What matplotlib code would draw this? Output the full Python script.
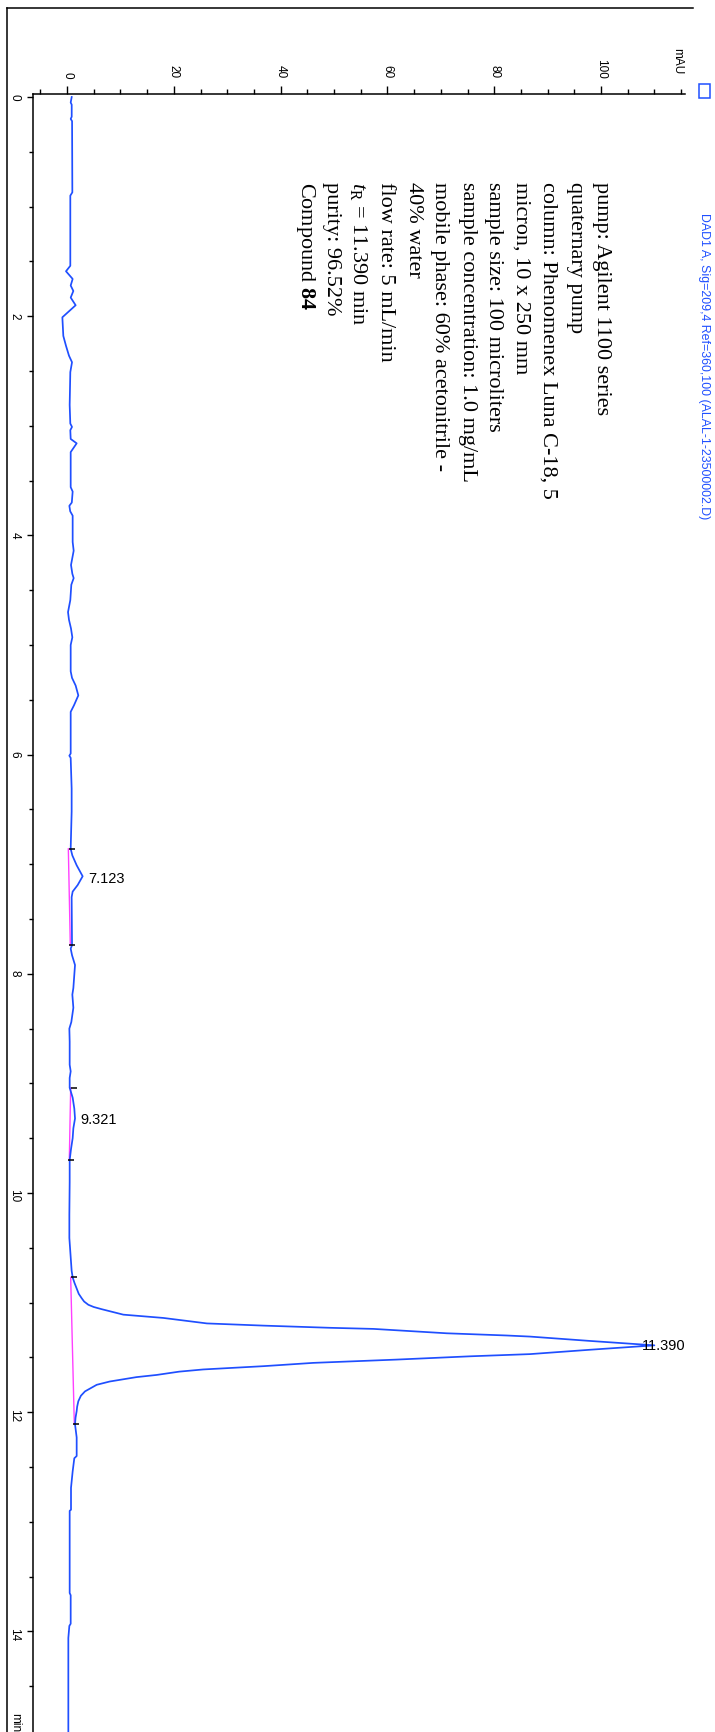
import matplotlib
matplotlib.use("Agg")
import matplotlib.pyplot as plt
from matplotlib.ticker import MultipleLocator, FixedLocator
from matplotlib.patches import Rectangle
from matplotlib.lines import Line2D

# DAD signal: retention time (min) and absorbance (mAU)
trace_time = [
    0.00, 0.05, 0.07, 0.18, 0.20, 0.22, 0.87, 0.90, 1.54, 1.59,
    1.66, 1.72, 1.77, 1.83, 1.90, 2.01, 2.18, 2.27, 2.36, 2.42,
    2.51, 2.81, 2.98, 3.01, 3.04, 3.12, 3.16, 3.24, 3.56, 3.60,
    3.70, 3.73, 3.78, 3.82, 4.06, 4.14, 4.27, 4.35, 4.39, 4.45,
    4.59, 4.70, 4.77, 4.85, 4.93, 5.00, 5.24, 5.30, 5.37, 5.46,
    5.55, 5.61, 5.99, 6.01, 6.03, 6.31, 6.52, 6.86, 6.92, 7.01,
    7.11, 7.19, 7.25, 7.30, 7.74, 7.77, 7.83, 7.92, 8.01, 8.13,
    8.19, 8.31, 8.44, 8.50, 8.62, 8.83, 8.89, 8.95, 9.04, 9.13,
    9.23, 9.32, 9.41, 9.50, 9.60, 9.70, 9.90, 10.20, 10.41, 10.59,
    10.71, 10.77, 10.82, 10.87, 10.92, 10.96, 10.99, 11.02, 11.04, 11.06,
    11.11, 11.14, 11.19, 11.21, 11.23, 11.24, 11.28, 11.30, 11.31, 11.35,
    11.39, 11.43, 11.47, 11.49, 11.52, 11.55, 11.58, 11.61, 11.63, 11.66,
    11.68, 11.70, 11.72, 11.75, 11.81, 11.85, 11.90, 11.95, 11.99, 12.05,
    12.11, 12.23, 12.40, 12.42, 12.54, 12.69, 12.89, 12.90, 13.65, 13.67,
    13.93, 13.95, 14.06, 14.95,
]
trace_mau = [
    0.88, 0.69, 0.88, 0.88, 0.69, 0.95, 1.00, 0.62, 0.62, -0.19,
    1.06, 0.69, 1.19, 0.69, 1.62, -0.87, -0.69, -0.19, 0.37, 0.94,
    0.62, 0.50, 0.62, 0.94, 0.62, 0.69, 1.81, 0.69, 0.69, 1.06,
    0.90, 0.44, 0.60, 1.06, 1.06, 1.25, 0.75, 1.00, 1.25, 0.81,
    0.62, 0.19, 0.37, 0.75, 1.00, 0.69, 0.69, 0.94, 1.62, 2.12,
    1.31, 0.69, 0.69, 0.44, 0.69, 0.87, 0.87, 0.69, 1.00, 1.81,
    2.93, 2.00, 1.06, 0.87, 0.94, 0.69, 0.94, 1.50, 1.37, 1.19,
    1.00, 1.19, 0.81, 0.44, 0.50, 0.50, 0.69, 0.50, 0.50, 1.06,
    1.37, 1.50, 1.19, 1.06, 0.75, 0.50, 0.50, 0.44, 0.44, 0.69,
    0.87, 1.06, 1.40, 1.81, 2.20, 2.75, 3.20, 4.00, 5.00, 6.49,
    10.55, 18.05, 26.2, 36.8, 49.3, 57.4, 71.1, 82.3, 86.7, 98.0,
    110.0, 98.0, 86.7, 75.5, 61.7, 46.1, 36.8, 25.5, 21.0, 16.8,
    13.0, 10.5, 8.0, 5.56, 3.37, 2.60, 2.12, 1.90, 1.81, 1.60,
    1.50, 1.81, 1.81, 1.37, 1.06, 0.75, 0.75, 0.50, 0.50, 0.69,
    0.69, 0.44, 0.25, 0.25,
]

# Integration results: retention times and baseline anchor points
peak_rt = [7.123, 9.321, 11.390]
peak_labels = ["7.123", "9.321", "11.390"]
base_start_time = [6.86, 9.04, 10.77]
base_start_mau = [0.25, 0.69, 0.69]
base_end_time = [7.74, 9.70, 12.11]
base_end_mau = [0.62, 0.43, 1.37]

# Axis ticks
mau_major = [0, 20, 40, 60, 80, 100]
time_major = [0, 2, 4, 6, 8, 10, 12, 14]

signal_title = "DAD1 A, Sig=209,4 Ref=360,100 (ALAL-1-23500002.D)"
method_lines = [
    "pump: Agilent 1100 series",
    "quaternary pump",
    "column: Phenomenex Luna C-18, 5",
    "micron, 10 x 250 mm",
    "sample size: 100 microliters",
    "sample concentration: 1.0 mg/mL",
    "mobile phase: 60% acetonitrile -",
    "40% water",
    "flow rate: 5 mL/min",
    r"$t_{\mathrm{R}}$ = 11.390 min",
    "purity: 96.52%",
    r"Compound $\mathbf{84}$",
]

plt.rcParams["mathtext.fontset"] = "custom"
plt.rcParams["mathtext.rm"] = "Liberation Serif"
plt.rcParams["mathtext.it"] = "Liberation Serif:italic"
plt.rcParams["mathtext.bf"] = "Liberation Serif:bold"

W, H = 715, 1733
fig = plt.figure(figsize=(W / 100, H / 100), dpi=100)
fig.patch.set_facecolor("white")


def fx(px):
    return px / W


def fy(py):
    return 1 - py / H


BLUE = "#1f4fff"
PINK = "#ff40ff"
SANS = "Liberation Sans"
SERIF = "Liberation Serif"

# Plot area (page is turned: time runs downward, absorbance to the right)
ax_left, ax_right, ax_top = 33, 685, 95
px_per_mau, mau0_px = 5.34, 67
px_per_min, t0_px = 109.6, 98
ax = fig.add_axes([fx(ax_left), 0, (ax_right - ax_left) / W, (H - ax_top) / H])
ax.set_xlim((ax_left - mau0_px) / px_per_mau, (ax_right - mau0_px) / px_per_mau)
ax.set_ylim((H - t0_px) / px_per_min, (ax_top - t0_px) / px_per_min)
ax.set_facecolor("none")

for side in ("right", "bottom"):
    ax.spines[side].set_visible(False)
for side in ("left", "top"):
    ax.spines[side].set_linewidth(1.1)
    ax.spines[side].set_color("black")

ax.xaxis.tick_top()
ax.xaxis.set_major_locator(FixedLocator(mau_major))
ax.xaxis.set_minor_locator(MultipleLocator(5))
ax.yaxis.set_major_locator(FixedLocator(time_major))
ax.yaxis.set_minor_locator(MultipleLocator(0.5))
ax.tick_params(axis="x", which="major", direction="out", length=5.8, width=1.0, pad=6,
               labelsize=8.5, labelrotation=-90)
ax.tick_params(axis="x", which="minor", direction="out", length=3.6, width=1.0)
ax.tick_params(axis="y", which="major", direction="out", length=4.5, width=1.0, pad=4.5,
               labelsize=8.5, labelrotation=-90)
ax.tick_params(axis="y", which="minor", direction="out", length=2.6, width=1.0)
ax.set_xticklabels([str(v) for v in mau_major])
ax.set_yticklabels([str(v) for v in time_major])
for lab in ax.get_xticklabels() + ax.get_yticklabels():
    lab.set_fontfamily(SANS)

# Integration baselines
for ts, ms, te, me in zip(base_start_time, base_start_mau, base_end_time, base_end_mau):
    ax.plot([ms, me], [ts, te], color=PINK, lw=1.0, zorder=2)

# Chromatogram
ax.plot(trace_mau, trace_time, color=BLUE, lw=1.25, zorder=3)

# Peak start / end markers
for ts, ms, te, me in zip(base_start_time, base_start_mau, base_end_time, base_end_mau):
    ax.plot([ms + 0.6, me + 0.4], [ts, te], ls="none", marker="_", ms=5, mew=1.1,
            color="black", zorder=4)

# Retention time labels
x_max = ax.get_xlim()[1]
for rt, lab in zip(peak_rt, peak_labels):
    i = min(range(len(trace_time)), key=lambda k: abs(trace_time[k] - rt))
    apex = trace_mau[i]
    if apex + 12 > x_max:
        ax.text(x_max, rt, lab, ha="right", va="center", fontsize=10.5,
                family=SANS, zorder=5)
    else:
        ax.text(apex + 1.0, rt, lab, ha="left", va="center", fontsize=10.5,
                family=SANS, zorder=5)

# Axis unit labels
fig.text(fx(677), fy(48), "mAU", rotation=-90, rotation_mode="anchor", ha="left",
         va="center", fontsize=8.5, family=SANS)
fig.text(fx(15), fy(1713), "min", rotation=-90, rotation_mode="anchor", ha="left",
         va="center", fontsize=8.5, family=SANS)

# Page frame
fig.add_artist(Line2D([fx(7), fx(7)], [fy(9), fy(H + 5)], color="black", lw=1.1))
fig.add_artist(Line2D([fx(7), fx(693)], [fy(9), fy(9)], color="black", lw=1.1))

# Signal legend
fig.add_artist(Rectangle((fx(699), fy(99)), 11 / W, 14 / H, fill=False,
                         edgecolor=BLUE, lw=1.1, transform=fig.transFigure))
fig.text(fx(704.5), fy(213), signal_title, rotation=-90, rotation_mode="anchor",
         ha="left", va="center", fontsize=8.9, family=SANS, color=BLUE)

# Method details
for k, line in enumerate(method_lines):
    fig.text(fx(602 - 27 * k), fy(182), line, rotation=-90, rotation_mode="anchor",
             ha="left", va="center", fontsize=16, family=SERIF, color="black")

fig.savefig("out.png", dpi=100, facecolor="white")
